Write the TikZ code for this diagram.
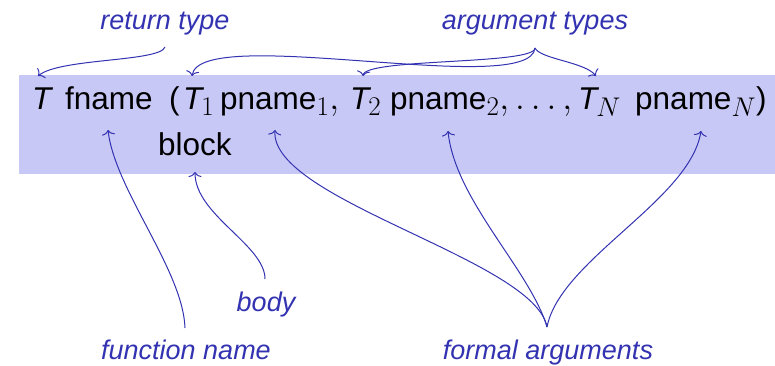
\RequirePackage{fix-cm}
\documentclass[tikz,border=0pt]{standalone}
\usepackage{fontspec}
\setmainfont{Liberation Sans}
\usetikzlibrary{arrows.meta}
\DeclareMathSizes{31.5}{36}{27}{20}
\definecolor{struct}{rgb}{0.2,0.2,0.7}
\definecolor{barcol}{RGB}{200,200,247}
\newcommand{\Tsub}[1]{\textit{T}\kern-3pt$_{#1}$}
\begin{document}
\begin{tikzpicture}[x=1pt,y=1pt,
  tok/.style={anchor=base west,inner sep=0pt,font=\fontsize{31.5}{38}\selectfont},
  lab/.style={anchor=base,inner sep=0pt,text=struct,font=\fontsize{27}{32}\selectfont\itshape},
  arr/.style={draw=struct,line width=1pt,-{To[length=5pt,width=13pt]}}]
\useasboundingbox (0,0) rectangle (775,-366);
\fill[barcol] (19,-75) rectangle (775,-174);
% tokens
\node[tok] (T) at (32,-110) {\textit{T}};
\node[tok] (fname) at (65,-110) {fname};
\node[tok] (lp) at (169,-110) {(};
\node[tok] (T1) at (183,-110) {\Tsub{1}};
\node[tok] (p1) at (220,-110) {pname$_1,$};
\node[tok] (T2) at (350,-110) {\Tsub{2}};
\node[tok] (p2) at (390,-110) {pname$_2, \ldots,$};
\node[tok] (TN) at (578,-110) {\Tsub{N}};
\node[tok] (pN) at (635,-110) {pname$_N$)};
\node[tok] (block) at (158,-155) {block};
% labels
\node[lab] (rt) at (165,-30) {return type};
\node[lab] (at) at (535,-30) {argument types};
\node[lab] (body) at (266,-311) {body};
\node[lab] (fn) at (186,-359) {function name};
\node[lab] (fa) at (548,-359) {formal arguments};
% connectors
\draw[arr] ([shift={(0,-17)}]rt.base) .. controls +(-5,-15) and +(22,18) .. ([shift={(6,34)}]T.base west);
\draw[arr] ([shift={(0,-18)}]at.base) .. controls +(-5,-51) and +(8,53) .. ([shift={(9,34)}]T1.base west);
\draw[arr] ([shift={(0,-18)}]at.base) .. controls +(0,-17) and +(2,18) .. ([shift={(13,34)}]T2.base west);
\draw[arr] ([shift={(0,-18)}]at.base) .. controls +(5,-11) and +(-11,14) .. ([shift={(18,34)}]TN.base west);
\draw[arr] ([shift={(-1,31)}]fn.base) .. controls +(-2,58) and +(7,-60) .. ([shift={(43,-20)}]fname.base west);
\draw[arr] ([shift={(-1,32)}]body.base) .. controls +(0,34) and +(0,-43) .. ([shift={(37,-17)}]block.base west);
\draw[arr] ([shift={(-1,32)}]fa.base) .. controls +(-12,67) and +(-5,-70) .. ([shift={(55,-20)}]p1.base west);
\draw[arr] ([shift={(-1,32)}]fa.base) .. controls +(-17,57) and +(7,-69) .. ([shift={(58,-21)}]p2.base west);
\draw[arr] ([shift={(-1,32)}]fa.base) .. controls +(13,67) and +(-11,-69) .. ([shift={(66,-21)}]pN.base west);
\end{tikzpicture}
\end{document}
